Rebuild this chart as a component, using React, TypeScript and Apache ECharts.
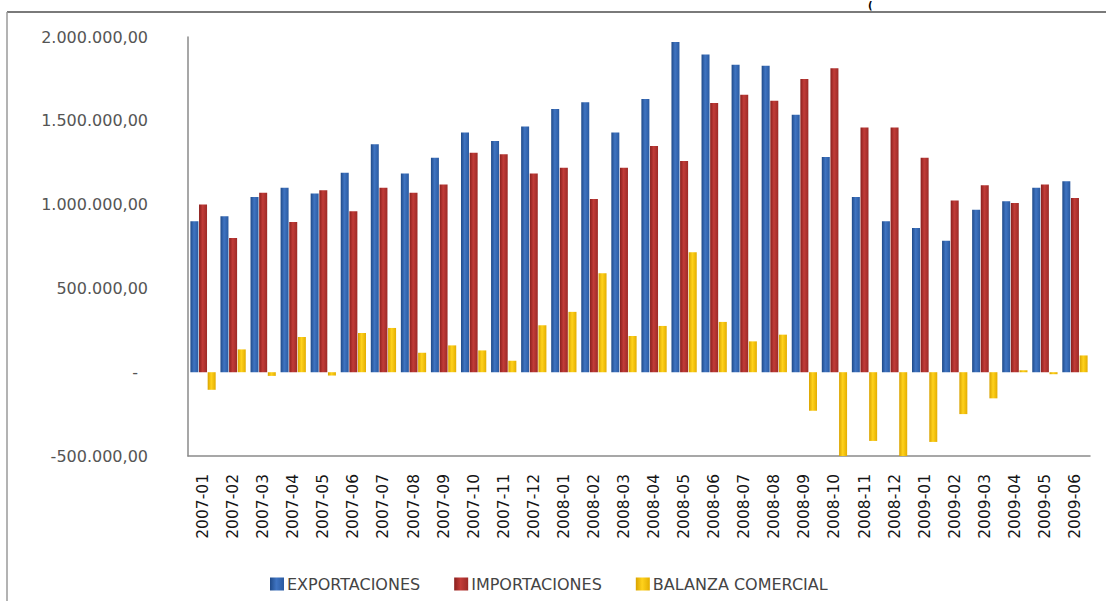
import React, { useEffect, useRef } from "react";
import * as echarts from "echarts";

const categories = [
  "2007-01", "2007-02", "2007-03", "2007-04", "2007-05", "2007-06",
  "2007-07", "2007-08", "2007-09", "2007-10", "2007-11", "2007-12",
  "2008-01", "2008-02", "2008-03", "2008-04", "2008-05", "2008-06",
  "2008-07", "2008-08", "2008-09", "2008-10", "2008-11", "2008-12",
  "2009-01", "2009-02", "2009-03", "2009-04", "2009-05", "2009-06",
];

const exportaciones = [
  900000, 930000, 1046000, 1100000, 1066000, 1190000,
  1360000, 1186000, 1280000, 1430000, 1380000, 1466000,
  1570000, 1610000, 1430000, 1630000, 1970000, 1896000,
  1834000, 1828000, 1536000, 1284000, 1046000, 900000,
  860000, 784000, 970000, 1020000, 1100000, 1140000,
];

const importaciones = [
  1000000, 800000, 1070000, 896000, 1086000, 960000,
  1100000, 1070000, 1120000, 1310000, 1300000, 1186000,
  1220000, 1034000, 1220000, 1350000, 1260000, 1606000,
  1656000, 1620000, 1750000, 1814000, 1460000, 1460000,
  1280000, 1024000, 1116000, 1010000, 1120000, 1040000,
];

const balanza = [
  -105000, 136000, -22000, 210000, -20000, 234000,
  264000, 116000, 160000, 130000, 68000, 280000,
  360000, 590000, 216000, 276000, 716000, 300000,
  184000, 224000, -230000, -530000, -410000, -560000,
  -416000, -250000, -156000, 12000, -12000, 100000,
];

const seriesNames = ["EXPORTACIONES", "IMPORTACIONES", "BALANZA COMERCIAL"];

function fmt(v: number): string {
  if (v === 0) return "{z|-}";
  const neg = v < 0;
  const s = Math.abs(Math.round(v)).toString().replace(/\B(?=(\d{3})+(?!\d))/g, ".");
  return (neg ? "-" : "") + s + ",00";
}

function grad(a: string, b: string, c: string) {
  return new echarts.graphic.LinearGradient(0, 0, 1, 0, [
    { offset: 0, color: a },
    { offset: 0.45, color: b },
    { offset: 1, color: c },
  ]);
}

export default function App() {
  const ref = useRef<HTMLDivElement>(null);
  useEffect(() => {
    document.body.style.margin = "0";
    const chart = echarts.init(ref.current!, null, { renderer: "svg" });
    const font = "DejaVu Sans";
    chart.setOption({
      animation: false,
      backgroundColor: "#ffffff",
      textStyle: { fontFamily: font },
      grid: { left: 188, right: 16, top: 37, bottom: 145, containLabel: false },
      legend: {
        left: 265,
        top: 571,
        itemWidth: 14,
        itemHeight: 13,
        itemGap: 34,
        icon: "rect",
        textStyle: { fontFamily: font, fontSize: 16, color: "#444444", padding: [0, 0, 0, -2] },
        data: seriesNames,
      },
      xAxis: {
        type: "category",
        data: categories,
        axisLine: { onZero: false, lineStyle: { color: "#8a8a8a", width: 1.5 } },
        axisTick: { show: false },
        axisLabel: {
          rotate: 90,
          interval: 0,
          margin: 18,
          fontFamily: font,
          fontSize: 15.5,
          color: "#151515",
        },
      },
      yAxis: {
        type: "value",
        min: -500000,
        max: 2000000,
        interval: 500000,
        axisLine: { show: true, lineStyle: { color: "#8a8a8a", width: 1.5 } },
        axisTick: { show: false },
        splitLine: {
          lineStyle: {
            color: "#858585",
            width: 1.5,
            shadowColor: "rgba(0,0,0,0.25)",
            shadowBlur: 2,
            shadowOffsetY: 2,
          },
        },
        axisLabel: {
          margin: 40,
          fontFamily: font,
          fontSize: 16,
          color: "#555555",
          formatter: (v: number) => fmt(v),
          rich: {
            z: { fontFamily: font, fontSize: 16, color: "#555555", padding: [0, 10, 0, 0] },
          },
        },
      },
      series: [
        {
          name: seriesNames[0],
          type: "bar",
          data: exportaciones,
          barWidth: 8,
          barGap: "8%",
          clip: true,
          itemStyle: { color: grad("#1f4a88", "#3f74c2", "#2a5aa0") },
        },
        {
          name: seriesNames[1],
          type: "bar",
          data: importaciones,
          barWidth: 8,
          barGap: "8%",
          clip: true,
          itemStyle: { color: grad("#8a1f1d", "#c23c38", "#9c2a27") },
        },
        {
          name: seriesNames[2],
          type: "bar",
          data: balanza,
          barWidth: 8,
          barGap: "8%",
          clip: true,
          itemStyle: { color: grad("#d9a300", "#ffd21c", "#e3ad00") },
        },
      ],
      graphic: [
        {
          type: "line",
          shape: { x1: 7, y1: 12, x2: 1106, y2: 12 },
          style: { stroke: "#7a7a7a", lineWidth: 2 },
          silent: true,
        },
        {
          type: "line",
          shape: { x1: 7, y1: 12, x2: 7, y2: 601 },
          style: { stroke: "#9a9a9a", lineWidth: 1.5 },
          silent: true,
        },
        {
          type: "text",
          x: 868,
          y: 0,
          style: { text: "(", fontSize: 10, fontFamily: font, fill: "#000000", fontWeight: "bold" },
          silent: true,
        },
      ],
    });
    return () => chart.dispose();
  }, []);
  return <div ref={ref} style={{ width: 1106, height: 601 }} />;
}
